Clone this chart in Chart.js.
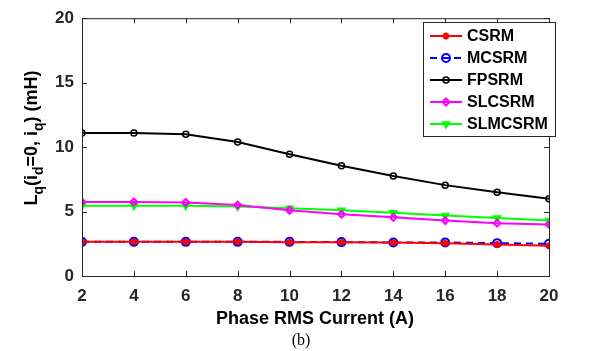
<!DOCTYPE html>
<html>
<head>
<meta charset="utf-8">
<script src="https://cdn.jsdelivr.net/npm/chart.js@4"></script>
<style>
  html, body { margin: 0; padding: 0; background: #fff; }
  #wrap { width: 590px; height: 351px; position: relative; }
</style>
</head>
<body>
<div id="wrap"><canvas id="lqChart"></canvas></div>
<script>
// phase RMS current (A)
const currents = [2, 4, 6, 8, 10, 12, 14, 16, 18, 20];
const yTicks = [0, 5, 10, 15, 20];

// Lq (mH) per machine
const csrm    = [2.65, 2.65, 2.65, 2.65, 2.62, 2.62, 2.6, 2.55, 2.45, 2.35];
const mcsrm   = [2.65, 2.65, 2.65, 2.65, 2.65, 2.63, 2.6, 2.6, 2.55, 2.5];
const fpsrm   = [11.1, 11.1, 11.0, 10.4, 9.45, 8.55, 7.75, 7.05, 6.5, 6.0];
const slcsrm  = [5.75, 5.75, 5.7, 5.5, 5.1, 4.8, 4.55, 4.3, 4.1, 4.0];
const slmcsrm = [5.45, 5.45, 5.45, 5.4, 5.25, 5.1, 4.9, 4.7, 4.5, 4.3];

const FONT = '"Liberation Sans", Arial, sans-serif';

function pts(arr) {
    return currents.map((x, i) => ({ x: x, y: arr[i] }));
}

// inward ticks, box and titles, matlab style
const matlabAxes = {
    id: 'matlabAxes',
    afterDraw(chart) {
        const ctx = chart.ctx;
        const a = chart.chartArea;
        const xs = chart.scales.x;
        const ys = chart.scales.y;
        ctx.save();
        ctx.strokeStyle = '#262626';
        ctx.lineWidth = 1;
        ctx.strokeRect(a.left + 0.5, a.top + 0.5, a.right - a.left, a.bottom - a.top);
        ctx.beginPath();
        currents.forEach(v => {
            const px = Math.round(xs.getPixelForValue(v)) + 0.5;
            ctx.moveTo(px, a.bottom); ctx.lineTo(px, a.bottom - 5);
            ctx.moveTo(px, a.top); ctx.lineTo(px, a.top + 5);
        });
        yTicks.forEach(v => {
            const py = Math.round(ys.getPixelForValue(v)) + 0.5;
            ctx.moveTo(a.left, py); ctx.lineTo(a.left + 5, py);
            ctx.moveTo(a.right, py); ctx.lineTo(a.right - 5, py);
        });
        ctx.stroke();

        // x title
        ctx.fillStyle = '#000';
        ctx.font = 'bold 18px ' + FONT;
        ctx.textAlign = 'center';
        ctx.textBaseline = 'middle';
        ctx.fillText('Phase RMS Current (A)', 315, 319);
        ctx.font = '16px "Liberation Serif", "Times New Roman", serif';
        ctx.fillText('(b)', 301, 341);

        // y title with subscripts
        ctx.translate(32, 138);
        ctx.rotate(-Math.PI / 2);
        const parts = [
            ['L', false], ['q', true], ['(i', false], ['d', true],
            ['=0, i', false], ['q', true], [') (mH)', false]
        ];
        const big = 'bold 18px ' + FONT;
        const small = 'bold 14px ' + FONT;
        let total = 0;
        parts.forEach(p => { ctx.font = p[1] ? small : big; total += ctx.measureText(p[0]).width; });
        let x = -total / 2;
        ctx.textAlign = 'left';
        parts.forEach(p => {
            ctx.font = p[1] ? small : big;
            ctx.fillText(p[0], x, p[1] ? 7 : 0);
            x += ctx.measureText(p[0]).width;
        });
        ctx.restore();

        // legend
        ctx.save();
        const bx = 423, by = 22, bw = 132, bh = 114;
        ctx.fillStyle = '#fff';
        ctx.fillRect(bx, by, bw, bh);
        ctx.strokeStyle = '#262626';
        ctx.lineWidth = 1;
        ctx.strokeRect(bx + 0.5, by + 0.5, bw, bh);
        chart.data.datasets.forEach((ds, i) => {
            const yy = 36 + i * 22;
            ctx.strokeStyle = ds.borderColor;
            ctx.lineWidth = ds.borderWidth;
            ctx.setLineDash(ds.borderDash || []);
            ctx.beginPath();
            ctx.moveTo(430, yy); ctx.lineTo(462, yy);
            ctx.stroke();
            ctx.setLineDash([]);
            ctx.fillStyle = 'rgba(255,255,255,0)';
            ctx.lineWidth = ds.pointBorderWidth;
            Chart.helpers.drawPoint(ctx, {
                pointStyle: ds.pointStyle,
                radius: ds.pointRadius,
                rotation: ds.pointRotation || 0,
                borderWidth: ds.pointBorderWidth
            }, 446, yy);
            ctx.fillStyle = '#000';
            ctx.font = 'bold 16px ' + FONT;
            ctx.textAlign = 'left';
            ctx.textBaseline = 'middle';
            ctx.fillText(ds.label, 467, yy + 1);
        });
        ctx.restore();
    }
};

function series(label, data, color, style, extra) {
    return Object.assign({
        label: label,
        data: pts(data),
        borderColor: color,
        backgroundColor: 'rgba(255,255,255,0)',
        pointBorderColor: color,
        pointBackgroundColor: 'rgba(255,255,255,0)',
        borderWidth: 2,
        pointStyle: style,
        pointRadius: 3.5,
        pointBorderWidth: 2,
        tension: 0
    }, extra || {});
}

const ctxLq = document.getElementById('lqChart').getContext('2d');
const lqChart = new Chart(ctxLq, {
    type: 'line',
    data: {
        datasets: [
            series('CSRM', csrm, '#ff0000', 'star', { pointRadius: 3.5 }),
            series('MCSRM', mcsrm, '#0000ff', 'circle', { borderDash: [7, 5], pointRadius: 4 }),
            series('FPSRM', fpsrm, '#000000', 'circle', { pointRadius: 3, pointBorderWidth: 1.5 }),
            series('SLCSRM', slcsrm, '#ff00ff', 'rectRot', { pointRadius: 3.5 }),
            series('SLMCSRM', slmcsrm, '#00ff00', 'triangle', { pointRotation: 180, pointRadius: 3.5 })
        ]
    },
    options: {
        responsive: true,
        maintainAspectRatio: false,
        animation: false,
        layout: { padding: { top: 11, right: 41, left: 0, bottom: 0 } },
        plugins: {
            legend: { display: false },
            tooltip: { enabled: false }
        },
        scales: {
            x: {
                type: 'linear',
                min: 2,
                max: 20,
                afterBuildTicks: s => { s.ticks = currents.map(v => ({ value: v })); },
                afterFit: s => { s.height = 75; },
                grid: { display: false, drawTicks: false },
                border: { display: false },
                ticks: {
                    color: '#262626',
                    padding: 10,
                    maxRotation: 0,
                    font: { family: FONT, size: 17, weight: 'bold' }
                }
            },
            y: {
                min: 0,
                max: 20,
                afterBuildTicks: s => { s.ticks = yTicks.map(v => ({ value: v })); },
                afterFit: s => { s.width = 82; },
                grid: { display: false, drawTicks: false },
                border: { display: false },
                ticks: {
                    color: '#262626',
                    padding: 8,
                    font: { family: FONT, size: 17, weight: 'bold' }
                }
            }
        }
    },
    plugins: [matlabAxes]
});
</script>
</body>
</html>
